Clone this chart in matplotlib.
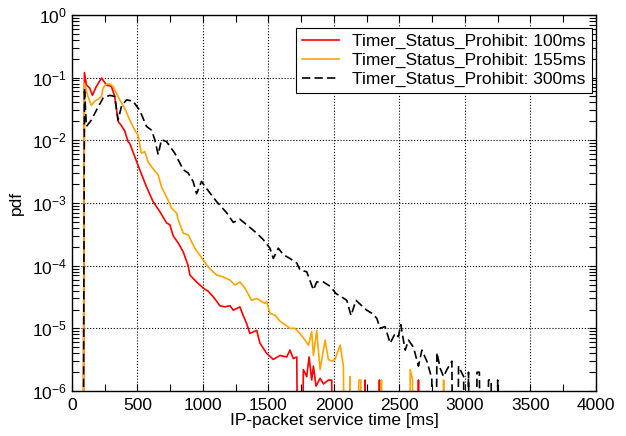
import numpy as np
import matplotlib
matplotlib.use("Agg")
import matplotlib.pyplot as plt
from matplotlib.ticker import LogLocator, MultipleLocator, NullFormatter

plt.rcParams['font.family'] = ['Liberation Sans', 'DejaVu Sans']
plt.rcParams['mathtext.fontset'] = 'custom'
plt.rcParams['mathtext.rm'] = 'Liberation Sans'
plt.rcParams['mathtext.it'] = 'Liberation Sans'

# ---- data (pdf values, 0 = empty bin, below axis)
t_100 = [80, 95, 110, 135, 156, 186, 225, 237, 263, 301, 326, 352, 378, 403, 428,
         441, 479, 517, 569, 619, 670, 722, 747, 772, 811, 849, 887, 900, 951, 1002,
         1040, 1078, 1129, 1167, 1206, 1231, 1282, 1307, 1333, 1358, 1410, 1435, 1486,
         1537, 1588, 1639, 1664, 1690, 1716, 1741, 1766, 1792, 1810, 1830, 1843, 1863,
         1894, 1920, 1957, 1983, 1995,
         2225, 2237, 2249, 2335, 2347, 2359, 2633, 2645, 2657]
pdf_100 = [0, 1.2e-1, 7.6e-2, 6.8e-2, 5.2e-2, 7.2e-2, 9.8e-2, 9.1e-2, 7.6e-2, 7.2e-2,
           5.0e-2, 2.0e-2, 1.7e-2, 1.4e-2, 9.5e-3,
           8.9e-3, 5.5e-3, 3.4e-3, 1.8e-3, 1.05e-3, 7.3e-4, 4.8e-4, 4.5e-4, 3.0e-4,
           2.3e-4, 1.66e-4, 1.0e-4, 7.1e-5, 5.5e-5, 4.4e-5,
           3.9e-5, 3.2e-5, 2.3e-5, 2.2e-5, 2.3e-5, 1.95e-5, 2.2e-5, 1.6e-5, 1.2e-5,
           8.3e-6, 9.3e-6, 5.8e-6, 4.0e-6,
           3.2e-6, 3.7e-6, 3.5e-6, 4.5e-6, 3.3e-6, 3.5e-6, 0, 2.2e-6, 1.7e-6, 3.5e-6,
           1.5e-6, 2.5e-6, 1.2e-6,
           1.6e-6, 1.3e-6, 1.5e-6, 1.5e-6, 0,
           0, 1.5e-6, 0, 0, 1.5e-6, 0, 0, 1.5e-6, 0]

t_155 = [80, 95, 122, 148, 173, 199, 225, 237, 263, 288, 314, 339, 365, 403, 441,
         479, 505, 517, 530, 556, 581, 619, 658, 683, 734, 760, 798, 811, 849, 887,
         938, 1002, 1040, 1104, 1154, 1206, 1244, 1282, 1320, 1371, 1410, 1473, 1486,
         1511, 1550, 1588, 1639, 1664, 1703, 1741, 1779, 1805, 1830, 1843, 1868, 1894,
         1932, 1957, 1983, 2008, 2047, 2072, 2098, 2123, 2140,
         2178, 2190, 2205, 2217, 2350, 2362, 2374,
         2570, 2582, 2600, 2612, 2825, 2837, 2849]
pdf_155 = [0, 8.1e-2, 5.0e-2, 3.6e-2, 4.2e-2, 4.5e-2, 5.0e-2, 6.8e-2, 7.9e-2, 7.9e-2,
           7.2e-2, 5.6e-2, 4.4e-2, 3.2e-2, 2.1e-2,
           1.45e-2, 1.2e-2, 8.5e-3, 6.2e-3, 6.6e-3, 4.5e-3, 3.5e-3, 2.8e-3, 1.8e-3,
           1.1e-3, 8.3e-4, 6.9e-4, 5.4e-4, 3.3e-4, 3.1e-4,
           1.9e-4, 1.23e-4, 9.5e-5, 7.1e-5, 6.6e-5, 5.9e-5, 4.9e-5, 5.5e-5, 4.4e-5,
           2.8e-5, 3.0e-5, 2.5e-5, 2.7e-5,
           1.74e-5, 1.62e-5, 1.3e-5, 1.1e-5, 1.0e-5, 1.0e-5, 8.3e-6, 6.5e-6, 5.4e-6,
           8.9e-6, 3.7e-6, 9.3e-6, 2.2e-6,
           6.5e-6, 3.2e-6, 3.0e-6, 3.2e-6, 5.4e-6, 2.5e-6, 0, 1.7e-6, 0,
           0, 1.5e-6, 1.5e-6, 0, 0, 1.5e-6, 0,
           0, 2.2e-6, 1.5e-6, 0, 0, 1.5e-6, 0]

t_300 = [80, 95, 110, 148, 186, 237, 288, 326, 352, 378, 416, 466, 517, 569, 607,
         632, 658, 683, 722, 785, 849, 887, 925, 951, 989, 1027, 1104, 1180, 1231,
         1282, 1333, 1410, 1460, 1511, 1537, 1575, 1613, 1664, 1716, 1741, 1792, 1843,
         1868, 1919, 1970, 2015, 2066, 2098, 2130, 2168, 2212, 2250, 2289, 2327, 2352,
         2390, 2429, 2467, 2492, 2510, 2530, 2544, 2569, 2607, 2645, 2671, 2709, 2747,
         2760, 2786, 2811, 2837, 2862, 2900, 2925, 2951, 2990, 3010, 3027, 3060, 3092,
         3110, 3140, 3180, 3200, 3220, 3250, 3265]
pdf_300 = [0, 6.8e-2, 1.66e-2, 2.1e-2, 3.0e-2, 4.7e-2, 5.2e-2, 5.0e-2, 2.1e-2, 3.5e-2,
           4.4e-2, 4.2e-2, 3.0e-2, 1.66e-2, 1.45e-2,
           1.02e-2, 5.9e-3, 1.02e-2, 9.5e-3, 6.2e-3, 3.4e-3, 3.0e-3, 2.2e-3, 1.4e-3,
           2.2e-3, 1.7e-3, 1.05e-3, 7.0e-4, 4.9e-4,
           5.5e-4, 4.5e-4, 3.3e-4, 2.6e-4, 1.9e-4, 1.3e-4, 1.9e-4, 1.5e-4, 1.3e-4,
           1.1e-4, 8.5e-5, 8.0e-5, 4.1e-5,
           5.5e-5, 5.5e-5, 4.7e-5, 3.6e-5, 3.1e-5, 2.8e-5, 1.6e-5, 2.8e-5, 2.3e-5,
           1.95e-5, 1.74e-5, 1.45e-5, 1.0e-5,
           1.07e-5, 5.8e-6, 8.3e-6, 7.4e-6, 1.15e-5, 6.5e-6, 4.5e-6, 6.5e-6, 5.0e-6,
           2.5e-6, 4.5e-6, 3.0e-6, 1.6e-6,
           0, 4.1e-6, 2.3e-6, 1.7e-6, 2.2e-6, 3.0e-6, 0, 2.5e-6, 1.7e-6, 0, 2.0e-6, 0,
           2.0e-6,
           2.0e-6, 0, 1.5e-6, 1.5e-6, 0, 1.5e-6, 0]

labels = ['Timer_Status_Prohibit: 100ms', 'Timer_Status_Prohibit: 155ms',
          'Timer_Status_Prohibit: 300ms']


def floor0(v):
    # empty bins -> tiny value so the line drops off the bottom of the axes
    v = np.asarray(v, dtype=float)
    return np.where(v > 0, v, 1e-12)


fs = 12.5
fig = plt.figure(figsize=(6.26, 4.36), dpi=100)
ax = fig.add_axes([0.115, 0.103, 0.837, 0.863])

ax.semilogy(t_100, floor0(pdf_100), color='#ff0000', lw=1.2, label=labels[0])
ax.semilogy(t_155, floor0(pdf_155), color='#ffa500', lw=1.2, label=labels[1])
ax.semilogy(t_300, floor0(pdf_300), color='black', lw=1.2, dashes=(5, 2.5), label=labels[2])

ax.set_xlim(0, 4000)
ax.set_ylim(1e-6, 1)
ax.xaxis.set_major_locator(MultipleLocator(500))
ax.xaxis.set_minor_locator(MultipleLocator(250))
ax.yaxis.set_major_locator(LogLocator(base=10, numticks=10))
ax.yaxis.set_minor_locator(LogLocator(base=10, subs=np.arange(2, 10), numticks=10))
ax.yaxis.set_minor_formatter(NullFormatter())

ax.tick_params(which='both', direction='in', top=True, right=True, labelsize=fs)
ax.tick_params(which='major', length=5, width=0.8)
ax.tick_params(which='minor', length=5, width=0.8)
ax.tick_params(axis='x', pad=5)
ax.grid(True, which='major', color='black', linestyle=':', linewidth=0.8)
for s in ax.spines.values():
    s.set_linewidth(1.0)

ax.set_xlabel('IP-packet service time [ms]', fontsize=fs, labelpad=0)
ax.set_ylabel('pdf', fontsize=fs, labelpad=6)

leg = ax.legend(loc='upper right', bbox_to_anchor=(0.992, 0.965), borderaxespad=0,
                fontsize=fs, fancybox=False, framealpha=1, edgecolor='black',
                handlelength=2.1, handletextpad=0.75, labelspacing=0.2, borderpad=0.35)
leg.get_frame().set_linewidth(0.8)

fig.savefig('out.png', dpi=100)
